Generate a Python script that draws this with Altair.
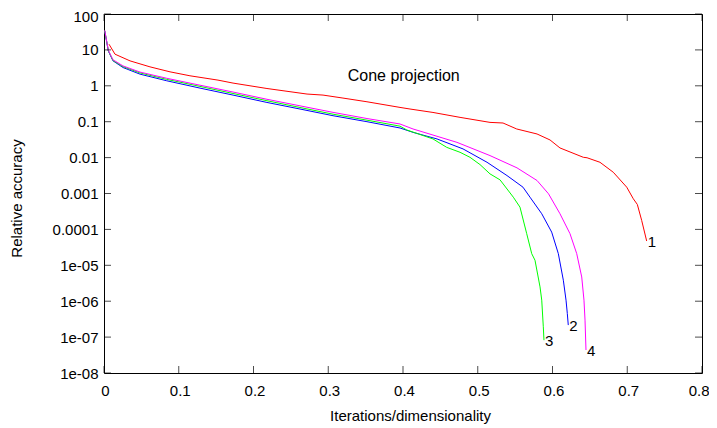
import json
import altair as alt
import pandas as pd

# ---- data ----
x1 = [0.0067, 0.0147, 0.0348, 0.0615, 0.0883, 0.115, 0.1525, 0.1726, 0.218, 0.2716, 0.293,
      0.3197, 0.3518, 0.396, 0.4094, 0.4401, 0.4763, 0.5164, 0.5338, 0.5521, 0.5793, 0.5967,
      0.61, 0.6412, 0.6462, 0.6635, 0.6813, 0.6993, 0.7081, 0.7135, 0.7193, 0.726]
y1 = [14.4, 7.6, 4.95, 3.37, 2.45, 1.90, 1.44, 1.19, 0.841, 0.589, 0.551,
      0.455, 0.359, 0.250, 0.2254, 0.181, 0.132, 0.0957, 0.092, 0.0627, 0.0455, 0.031,
      0.01858, 0.0102, 0.0099, 0.00741, 0.00391, 0.0015, 0.000713, 0.000495, 0.000178, 4.74e-5]

x2 = [0.001, 0.0058, 0.012, 0.0254, 0.0482, 0.0839, 0.1284, 0.1726, 0.218, 0.2622, 0.3064,
      0.3518, 0.396, 0.4134, 0.4455, 0.4803, 0.5124, 0.5391, 0.5605, 0.5699, 0.5856, 0.5989,
      0.6078, 0.6145, 0.6181, 0.6198, 0.6211]
y2 = [33.5, 9.3, 4.95, 3.23, 2.11, 1.38, 0.863, 0.551, 0.344, 0.2254, 0.1469,
      0.100, 0.0668, 0.0505, 0.0331, 0.01746, 0.00741, 0.00316, 0.0015, 0.000789, 0.000273, 8.4e-5,
      2.11e-5, 3.84e-6, 1.07e-6, 4.56e-7, 2.16e-7]

x3 = [0.001, 0.0058, 0.012, 0.0254, 0.0482, 0.0839, 0.1284, 0.1726, 0.218, 0.2622, 0.3064,
      0.3518, 0.396, 0.405, 0.4401, 0.4585, 0.4763, 0.4896, 0.503, 0.5164, 0.5298, 0.5476,
      0.5565, 0.5655, 0.5722, 0.5766, 0.5833, 0.5856, 0.5877, 0.5886]
y3 = [34.3, 9.53, 5.08, 3.42, 2.28, 1.51, 0.962, 0.611, 0.384, 0.249, 0.162,
      0.1104, 0.0752, 0.0589, 0.0331, 0.0193, 0.01406, 0.0102, 0.0064, 0.00352, 0.0024, 0.000789,
      0.000417, 7.6e-5, 2.11e-5, 1.38e-5, 2.5e-6, 1.07e-6, 1.94e-7, 8.2e-8]

x4 = [0.001, 0.0058, 0.012, 0.0254, 0.0482, 0.0839, 0.1284, 0.1726, 0.218, 0.2622, 0.3064,
      0.3518, 0.396, 0.4134, 0.4722, 0.5164, 0.5525, 0.5793, 0.5947, 0.61, 0.6234, 0.6324,
      0.6391, 0.6421, 0.6435, 0.6448]
y4 = [35.1, 9.75, 5.32, 3.58, 2.41, 1.62, 1.04, 0.670, 0.421, 0.2767, 0.182,
      0.1225, 0.0863, 0.0627, 0.0266, 0.01138, 0.00518, 0.0023, 0.00098, 0.000273, 7.6e-5, 2.11e-5,
      4.73e-6, 1.07e-6, 2.97e-7, 4.36e-8]

series_names = ["1", "2", "3", "4"]
series_colors = ["#ff0000", "#0000ff", "#00ff00", "#ff00ff"]

x_ticks = [0, 0.1, 0.2, 0.3, 0.4, 0.5, 0.6, 0.7, 0.8]
y_ticks = [1e-8, 1e-7, 1e-6, 1e-5, 1e-4, 1e-3, 1e-2, 1e-1, 1, 10, 100]
y_tick_labels = ["1e-08", "1e-07", "1e-06", "1e-05", "0.0001", "0.001", "0.01", "0.1", "1", "10", "100"]

title_text = ["Cone projection"]
title_x = [0.326]
title_y = [1.9]

x_title = "Iterations/dimensionality"
y_title = "Relative accuracy"

# ---- build tables ----
rows = []
for name, xs_, ys_ in zip(series_names, [x1, x2, x3, x4], [y1, y2, y3, y4]):
    for i, (a, b) in enumerate(zip(xs_, ys_)):
        rows.append({"s": name, "x": a, "y": b, "i": i})
df = pd.DataFrame(rows)
ends = df.groupby("s").tail(1).reset_index(drop=True)
xt = pd.DataFrame({"x": x_ticks})
yt = pd.DataFrame({"y": y_ticks})
tdf = pd.DataFrame({"x": title_x, "y": title_y, "t": title_text})

FONT = "Liberation Sans"
FS = 15
W, H = 598, 359
TL = 7

xscale = alt.Scale(domain=[0, 0.8], nice=False, zero=False)
yscale = alt.Scale(type="log", domain=[1e-8, 100], nice=False)

label_expr = json.dumps(y_tick_labels) + "[round(log(datum.value)/LN10)+8]"

xaxis = alt.Axis(values=x_ticks, format="~g", title=x_title,
                 labelFlush=False, labelPadding=10,
                 labelAlign=alt.expr("datum.value >= 0.79 ? 'right' : 'center'"),
                 labelOffset=alt.expr("datum.value >= 0.79 ? 7 : 1"),
                 titleX=306, titleY=47,
                 titleBaseline="alphabetic", titleAlign="center")
yaxis = alt.Axis(values=y_ticks, labelExpr=label_expr, title=y_title,
                 labelFlush=False, labelPadding=6,
                 labelOffset=alt.expr("datum.value >= 99 ? 2 : 0"),
                 titleX=-88, titleY=184, titleAngle=270,
                 titleBaseline="middle", titleAlign="center")


def X():
    return alt.X("x:Q", scale=xscale, axis=xaxis)


def Y():
    return alt.Y("y:Q", scale=yscale, axis=yaxis)


lines = alt.Chart(df).mark_line(strokeWidth=1, clip=True).encode(
    x=X(), y=Y(),
    color=alt.Color("s:N", scale=alt.Scale(domain=series_names, range=series_colors), legend=None),
    order="i:Q",
)

end_labels = alt.Chart(ends).mark_text(
    align="left", baseline="middle", dx=1, dy=1, fontSize=FS, font=FONT, color="black"
).encode(x=X(), y=Y(), text="s:N")

title_mark = alt.Chart(tdf).mark_text(
    align="left", baseline="middle", fontSize=16, font=FONT, color="black"
).encode(x=X(), y=Y(), text="t:N")

tick_bottom = alt.Chart(xt).mark_tick(orient="vertical", size=TL, thickness=1, color="black").encode(
    x=X(), y=alt.value(H - TL / 2))
tick_top = alt.Chart(xt).mark_tick(orient="vertical", size=TL, thickness=1, color="black").encode(
    x=X(), y=alt.value(TL / 2))
tick_left = alt.Chart(yt).mark_tick(orient="horizontal", size=TL, thickness=1, color="black").encode(
    y=Y(), x=alt.value(TL / 2))
tick_right = alt.Chart(yt).mark_tick(orient="horizontal", size=TL, thickness=1, color="black").encode(
    y=Y(), x=alt.value(W - TL / 2))

chart = alt.layer(
    lines, tick_bottom, tick_top, tick_left, tick_right, end_labels, title_mark
).properties(
    width=W, height=H,
    autosize=alt.AutoSizeParams(type="none"),
    padding={"left": 96, "top": 6, "right": 7, "bottom": 51},
).configure_view(
    stroke="black", strokeWidth=1
).configure_axis(
    domain=False, grid=False, ticks=False, tickSize=0,
    labelFont=FONT, labelFontSize=FS, labelColor="black",
    titleFont=FONT, titleFontSize=FS, titleColor="black", titleFontWeight="normal",
)

chart.save("out.html", embed_options={"renderer": "svg", "actions": False})
